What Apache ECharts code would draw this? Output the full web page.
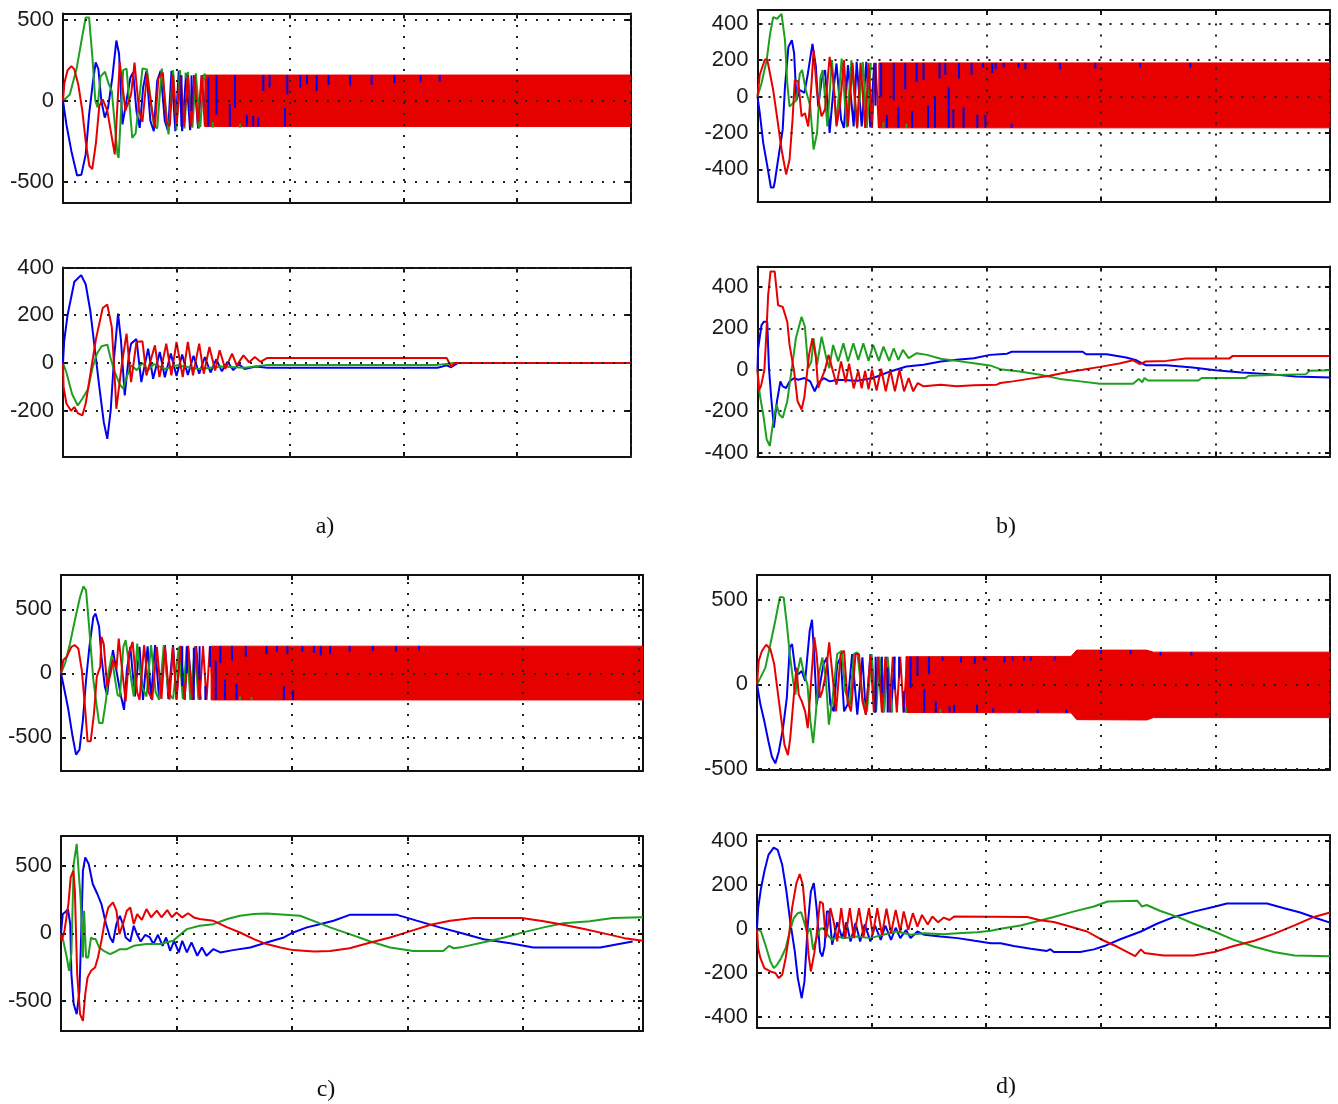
<!DOCTYPE html>
<html><head><meta charset="utf-8">
<script src="https://cdn.jsdelivr.net/npm/echarts@6/dist/echarts.min.js"></script>
<style>html,body{margin:0;padding:0;background:#fff;}#c{width:1338px;height:1104px;}</style>
</head><body><div id="c"></div>
<script>
// ---------- captions ----------
const captions = ['a)', 'b)', 'c)', 'd)'];

// ---------- shared x grid ----------
const xGridValues = [1, 2, 3, 4, 5];

// ---------- panel a, top ----------
const aTopYRange = [-630, 540];
const aTopYTicks = [-500, 0, 500];
const aTopBlue = [[0,0],[0.03,-145],[0.074,-310],[0.124,-460],[0.162,-455],[0.2,-330],[0.23,-83],[0.265,124],[0.288,238],[0.312,197],[0.338,0],[0.368,-103],[0.397,-41],[0.435,145],[0.47,373],[0.494,290],[0.524,-145],[0.559,0],[0.594,145],[0.618,176],[0.647,-62],[0.676,-166],[0.706,83],[0.735,186],[0.77,-124],[0.8,-186],[0.83,124],[0.86,186],[0.897,-124],[0.926,-186],[0.956,186],[0.99,-186],[1.02,186],[1.05,-186],[1.085,170],[1.12,-180],[1.155,160],[1.19,-170],[1.225,160],[1.26,-160]];
const aTopGreen = [[0,0],[0.06,40],[0.12,200],[0.17,400],[0.2,515],[0.23,515],[0.26,260],[0.285,0],[0.305,-40],[0.33,150],[0.37,180],[0.4,110],[0.43,60],[0.48,-330],[0.49,-352],[0.53,190],[0.56,200],[0.61,-228],[0.64,-200],[0.7,200],[0.74,195],[0.8,-150],[0.83,-170],[0.87,200],[0.93,-207],[0.97,190],[1.0,-160],[1.03,190],[1.07,-170],[1.1,180],[1.14,-165],[1.17,170],[1.21,-160],[1.24,165]];
const aTopRed = [[0,0],[0.012,110],[0.04,190],[0.074,215],[0.1,195],[0.135,100],[0.17,-60],[0.2,-250],[0.232,-400],[0.258,-420],[0.29,-260],[0.32,-30],[0.35,10],[0.39,-60],[0.456,-330],[0.5,240],[0.55,-60],[0.6,40],[0.63,237],[0.67,-60],[0.7,-130],[0.74,165],[0.78,-40],[0.81,-165],[0.84,140],[0.88,175],[0.91,-130],[0.94,-155],[0.97,160],[1.0,-158],[1.035,160],[1.065,-158],[1.1,160],[1.13,-158],[1.16,160],[1.19,-158],[1.22,160],[1.25,-158],[1.275,160],[1.3,-158]];
const aTopBandX = [1.25, 5];
const aTopBandUp = [160, 160];
const aTopBandLo = [-158, -158];
const aTopBlueSpikes = [[1.044,158,-158],[1.132,158,-62],[1.28,145,-158],[1.353,158,-83],[1.47,-20,-158],[1.515,158,-41],[1.62,-83,-158],[1.676,-93,-158],[1.72,-103,-158],[1.765,158,62],[1.82,158,83],[1.956,-41,-158],[1.976,158,41],[2.09,158,83],[2.15,158,103],[2.235,158,62],[2.34,158,100],[2.53,158,95],[2.72,158,100],[2.92,158,110],[3.15,158,115],[3.32,158,120]];
const aTopGreenSpikes = [[1.0,-180,-140],[1.2,-170,-130],[1.32,-165,-130],[1.56,-165,-140],[1.08,175,140],[1.25,170,140]];

// ---------- panel a, bottom ----------
const aBotYRange = [-394, 400];
const aBotYTicks = [-200, 0, 200, 400];
const aBotBlue = [[0,0],[0.01,90],[0.04,200],[0.1,340],[0.16,368],[0.2,330],[0.24,220],[0.28,60],[0.32,-100],[0.36,-250],[0.39,-318],[0.42,-200],[0.45,20],[0.485,207],[0.51,100],[0.544,-136],[0.58,30],[0.6,81],[0.647,100],[0.69,-80],[0.75,60],[0.794,-66],[0.853,46],[0.897,-60],[0.95,40],[1.0,-55],[1.05,35],[1.1,-50],[1.15,30],[1.2,-45],[1.25,25],[1.3,-40],[1.35,15],[1.4,-35],[1.45,5],[1.5,-30],[1.55,-5],[1.6,-25],[1.7,-15],[1.8,-20],[3.3,-20],[3.38,-10],[3.42,-18],[3.48,0],[5,0]];
const aBotGreen = [[0,0],[0.03,-40],[0.08,-130],[0.13,-178],[0.17,-150],[0.22,-110],[0.26,-20],[0.3,40],[0.34,70],[0.39,77],[0.42,20],[0.456,-38],[0.5,-90],[0.53,-108],[0.56,-60],[0.6,-10],[0.65,-30],[0.7,0],[0.75,-30],[0.8,-5],[0.9,-25],[1.0,-10],[1.2,-25],[1.4,-15],[1.6,-20],[1.8,-8],[3.3,-8],[3.45,0],[5,0]];
const aBotRed = [[0,0],[0.005,-100],[0.03,-170],[0.07,-200],[0.1,-185],[0.13,-210],[0.17,-220],[0.2,-170],[0.24,-50],[0.29,100],[0.35,230],[0.39,245],[0.43,150],[0.46,-100],[0.47,-192],[0.52,0],[0.56,123],[0.6,-80],[0.647,88],[0.7,91],[0.735,-52],[0.81,74],[0.85,-59],[0.91,81],[0.955,-52],[1.0,88],[1.055,-59],[1.1,88],[1.145,-52],[1.2,81],[1.24,-45],[1.29,67],[1.34,-32],[1.38,53],[1.43,-25],[1.49,39],[1.53,-10],[1.59,32],[1.64,3],[1.69,25],[1.74,5],[1.8,21],[3.38,21],[3.42,-15],[3.45,0],[5,0]];

// ---------- panel b, top ----------
const bTopYRange = [-577, 476];
const bTopYTicks = [-400, -200, 0, 200, 400];
const bTopBlue = [[0,0],[0.02,-91],[0.05,-255],[0.085,-380],[0.117,-500],[0.14,-500],[0.15,-473],[0.18,-346],[0.22,-182],[0.24,55],[0.27,273],[0.3,310],[0.32,237],[0.34,-18],[0.37,36],[0.41,20],[0.44,127],[0.48,290],[0.51,164],[0.53,-55],[0.56,91],[0.59,146],[0.63,-200],[0.66,18],[0.69,182],[0.73,-127],[0.755,-173],[0.79,173],[0.84,-164],[0.866,191],[0.91,-164],[0.95,191],[0.985,-170],[1.02,185]];
const bTopGreen = [[0,0],[0.035,73],[0.08,200],[0.11,345],[0.137,437],[0.17,428],[0.21,455],[0.24,310],[0.26,73],[0.28,-55],[0.31,-36],[0.34,-20],[0.37,127],[0.39,146],[0.42,40],[0.46,-50],[0.49,-291],[0.52,-200],[0.55,109],[0.57,146],[0.61,-164],[0.65,200],[0.69,-150],[0.735,209],[0.78,-170],[0.82,200],[0.87,-175],[0.92,190],[0.955,-172],[0.99,185]];
const bTopRed = [[0,0],[0.02,120],[0.064,204],[0.085,204],[0.137,36],[0.17,-109],[0.21,-291],[0.25,-428],[0.28,-346],[0.306,-127],[0.326,91],[0.356,82],[0.385,-109],[0.414,-91],[0.443,-164],[0.47,55],[0.49,255],[0.52,20],[0.56,-109],[0.59,-70],[0.63,218],[0.66,100],[0.69,-164],[0.72,-50],[0.755,200],[0.79,-164],[0.83,185],[0.87,-170],[0.9,185],[0.94,-172],[0.97,185],[1.0,-172],[1.03,185],[1.06,-172],[1.085,185]];
const bTopBandX = [1.06, 5];
const bTopBandUp = [185, 185];
const bTopBandLo = [-172, -172];
const bTopBlueSpikes = [[1.03,185,-50],[1.08,185,0],[1.13,-100,-172],[1.19,185,-20],[1.23,-60,-172],[1.29,185,40],[1.35,-80,-172],[1.39,185,80],[1.45,185,90],[1.49,-50,-172],[1.55,0,-172],[1.59,185,100],[1.64,185,120],[1.67,50,-172],[1.71,-70,-172],[1.76,185,100],[1.8,-60,-172],[1.87,185,120],[1.92,-100,-172],[1.97,185,160],[1.99,-100,-172],[2.05,185,130],[2.08,185,150],[2.15,185,160],[2.22,-150,-172],[2.28,185,160],[2.34,185,150],[2.64,185,150],[2.95,185,155],[3.34,185,160],[3.78,185,160]];
const bTopGreenSpikes = [[1.1,-172,-140],[1.3,-172,-150]];

// ---------- panel b, bottom ----------
const bBotYRange = [-419, 499];
const bBotYTicks = [-400, -200, 0, 200, 400];
const bBotBlue = [[0,0],[0.005,100],[0.035,216],[0.055,232],[0.085,232],[0.1,8],[0.12,-136],[0.143,-280],[0.17,-152],[0.2,-56],[0.22,-80],[0.25,-88],[0.28,-56],[0.32,-40],[0.356,-48],[0.41,-40],[0.46,-56],[0.5,-104],[0.53,-64],[0.58,-40],[0.63,-56],[0.7,-48],[0.87,-53],[1.01,-40],[1.16,-8],[1.3,16],[1.45,24],[1.6,40],[1.74,48],[1.89,56],[2.03,72],[2.18,78],[2.22,87],[2.84,87],[2.87,75],[3.05,75],[3.22,59],[3.31,46],[3.39,22],[3.57,22],[3.8,11],[4.0,-2],[4.23,-13],[4.47,-21],[4.7,-32],[5,-37]];
const bBotGreen = [[0,0],[0.02,-120],[0.05,-216],[0.08,-336],[0.108,-368],[0.137,-248],[0.166,-168],[0.19,-216],[0.22,-232],[0.26,-152],[0.3,8],[0.335,152],[0.385,256],[0.414,208],[0.443,8],[0.47,40],[0.49,152],[0.52,24],[0.56,160],[0.6,60],[0.627,8],[0.66,120],[0.705,40],[0.75,128],[0.79,40],[0.837,128],[0.88,48],[0.924,128],[0.97,43],[1.01,120],[1.06,43],[1.1,112],[1.15,43],[1.19,104],[1.23,48],[1.27,96],[1.32,56],[1.39,80],[1.48,72],[1.6,53],[1.74,43],[1.89,32],[2.03,21],[2.12,3],[2.29,-8],[2.47,-24],[2.64,-44],[2.82,-56],[2.99,-68],[3.28,-68],[3.33,-44],[3.36,-60],[3.38,-40],[3.41,-52],[3.85,-52],[3.88,-40],[4.26,-40],[4.29,-29],[4.79,-21],[4.82,-5],[5,-2]];
const bBotRed = [[0,0],[0.01,-100],[0.03,-80],[0.06,0],[0.075,150],[0.093,360],[0.114,475],[0.15,475],[0.18,312],[0.22,304],[0.26,232],[0.28,120],[0.32,-8],[0.35,-152],[0.385,-192],[0.41,-130],[0.45,72],[0.48,152],[0.51,60],[0.53,-88],[0.56,-40],[0.59,0],[0.62,72],[0.66,-10],[0.69,-72],[0.73,40],[0.77,-60],[0.8,30],[0.84,-90],[0.88,-5],[0.91,-90],[0.94,-5],[0.97,-95],[1.0,0],[1.04,-100],[1.08,5],[1.12,-104],[1.16,0],[1.2,-104],[1.24,0],[1.28,-104],[1.32,-40],[1.36,-104],[1.4,-64],[1.45,-80],[1.6,-72],[1.74,-80],[1.89,-75],[2.09,-72],[2.12,-64],[2.23,-56],[2.37,-44],[2.55,-29],[2.69,-13],[2.84,0],[2.99,14],[3.16,30],[3.28,46],[3.34,27],[3.39,40],[3.57,43],[3.74,54],[4.12,54],[4.15,67],[5,67]];

// ---------- panel c, top ----------
const cTopYRange = [-763, 768];
const cTopYTicks = [-500, 0, 500];
const cTopBlue = [[0,0],[0.03,-130],[0.064,-285],[0.1,-492],[0.13,-635],[0.16,-596],[0.19,-363],[0.217,-52],[0.246,207],[0.28,440],[0.3,466],[0.33,363],[0.35,130],[0.38,-104],[0.4,-168],[0.42,0],[0.45,181],[0.48,20],[0.52,-181],[0.546,-285],[0.57,20],[0.6,207],[0.64,-181],[0.68,207],[0.71,-207],[0.75,210],[0.78,-200],[0.815,220],[0.85,-200],[0.9,220],[0.93,-200],[0.97,220],[1.0,-200],[1.035,215],[1.07,-205],[1.1,215],[1.14,-205],[1.17,212],[1.21,-205]];
const cTopGreen = [[0,0],[0.035,78],[0.078,233],[0.12,414],[0.165,596],[0.194,679],[0.217,648],[0.246,337],[0.28,-52],[0.31,-259],[0.33,-389],[0.36,-389],[0.39,-207],[0.41,0],[0.44,142],[0.46,0],[0.49,-168],[0.51,-181],[0.54,207],[0.56,259],[0.6,0],[0.63,-180],[0.66,233],[0.7,-100],[0.74,-181],[0.78,220],[0.82,-150],[0.85,-207],[0.89,220],[0.93,-150],[0.97,-200],[1.02,207],[1.055,-200],[1.09,210],[1.12,-205],[1.16,210],[1.19,-205]];
const cTopRed = [[0,0],[0.02,104],[0.05,130],[0.09,207],[0.12,220],[0.15,194],[0.18,26],[0.21,-285],[0.23,-531],[0.257,-531],[0.286,-311],[0.31,-26],[0.34,52],[0.35,285],[0.37,230],[0.4,-104],[0.43,0],[0.45,104],[0.48,30],[0.5,272],[0.53,20],[0.56,-220],[0.59,160],[0.62,246],[0.66,-150],[0.68,-207],[0.72,220],[0.76,-150],[0.79,-207],[0.83,207],[0.87,-200],[0.9,207],[0.94,-205],[0.97,207],[1.0,-208],[1.035,212],[1.07,-208],[1.1,212],[1.135,-208],[1.165,212],[1.2,-208],[1.23,212],[1.26,-208],[1.29,212],[1.32,-208]];
const cTopBandX = [1.3, 5.04];
const cTopBandUp = [212, 212];
const cTopBandLo = [-208, -208];
const cTopBlueSpikes = [[1.05,212,-100],[1.09,212,0],[1.15,200,-208],[1.2,212,-50],[1.25,-100,-208],[1.29,212,50],[1.34,100,-208],[1.38,212,80],[1.42,-50,-208],[1.48,212,100],[1.52,-80,-208],[1.6,212,130],[1.78,212,150],[1.87,212,170],[1.93,-100,-208],[1.96,212,150],[2.01,-130,-208],[2.09,212,170],[2.19,212,160],[2.25,212,140],[2.33,212,150],[2.5,212,170],[2.7,212,175],[2.9,212,170],[3.1,212,180]];
const cTopGreenSpikes = [[1.12,-208,-170],[1.55,-208,-180],[1.65,-208,-185]];

// ---------- panel c, bottom ----------
const cBotYRange = [-725, 724];
const cBotYTicks = [-500, 0, 500];
const cBotBlue = [[0,0],[0.015,144],[0.035,156],[0.06,180],[0.08,70],[0.09,-300],[0.11,-525],[0.136,-600],[0.16,-426],[0.175,0],[0.19,466],[0.21,565],[0.24,516],[0.275,367],[0.315,293],[0.35,218],[0.39,70],[0.425,-30],[0.45,-67],[0.48,70],[0.51,131],[0.535,70],[0.56,-30],[0.6,-60],[0.63,57],[0.66,-10],[0.69,-60],[0.73,-10],[0.77,-30],[0.8,-79],[0.84,-10],[0.88,-92],[0.91,-30],[0.945,-129],[0.98,-55],[1.02,-141],[1.05,-55],[1.09,-141],[1.13,-67],[1.18,-166],[1.22,-104],[1.26,-166],[1.32,-116],[1.38,-141],[1.49,-124],[1.64,-104],[1.78,-67],[1.93,-30],[2.01,7],[2.13,45],[2.25,70],[2.36,94],[2.5,138],[2.91,138],[3.08,95],[3.28,45],[3.48,0],[3.66,-43],[3.89,-73],[4.09,-105],[4.67,-105],[4.82,-80],[4.95,-60]];
const cBotGreen = [[0,0],[0.02,-55],[0.05,-179],[0.07,-278],[0.09,-150],[0.11,516],[0.136,665],[0.153,665],[0.17,250],[0.19,-179],[0.2,169],[0.217,-179],[0.235,-179],[0.26,-30],[0.28,-42],[0.3,-42],[0.33,-104],[0.37,-129],[0.425,-154],[0.46,-140],[0.51,-117],[0.57,-117],[0.63,-92],[0.74,-79],[0.86,-79],[0.97,-55],[1.09,32],[1.2,57],[1.32,69],[1.44,107],[1.55,131],[1.67,144],[1.78,149],[2.07,131],[2.22,82],[2.33,45],[2.5,-5],[2.68,-60],[2.85,-105],[3.05,-130],[3.31,-130],[3.36,-93],[3.4,-110],[3.48,-100],[3.69,-60],[3.84,-30],[4.0,8],[4.18,45],[4.35,75],[4.58,90],[4.78,115],[5.04,120]];
const cBotRed = [[0,0],[0.006,-55],[0.03,20],[0.064,218],[0.084,417],[0.107,466],[0.12,317],[0.14,-300],[0.165,-600],[0.19,-650],[0.21,-451],[0.23,-327],[0.26,-278],[0.295,-253],[0.32,-179],[0.35,-55],[0.38,94],[0.41,193],[0.45,231],[0.48,169],[0.506,-5],[0.54,80],[0.57,169],[0.6,193],[0.63,70],[0.66,144],[0.7,100],[0.74,181],[0.78,120],[0.83,169],[0.87,120],[0.92,174],[0.96,120],[1.0,156],[1.05,119],[1.1,150],[1.15,119],[1.2,107],[1.32,94],[1.44,45],[1.55,7],[1.67,-42],[1.78,-79],[1.9,-104],[2.01,-124],[2.19,-134],[2.33,-130],[2.5,-110],[2.68,-68],[2.85,-30],[3.02,15],[3.2,65],[3.37,95],[3.57,115],[3.99,115],[4.18,90],[4.35,65],[4.53,33],[4.73,-5],[4.88,-35],[5.04,-55]];

// ---------- panel d, top ----------
const dTopYRange = [-505, 645];
const dTopYTicks = [-500, 0, 500];
const dTopBlue = [[0,0],[0.03,-119],[0.064,-218],[0.1,-337],[0.13,-427],[0.16,-466],[0.19,-397],[0.227,-258],[0.26,-79],[0.286,218],[0.306,238],[0.335,79],[0.36,60],[0.39,79],[0.42,20],[0.46,317],[0.48,381],[0.5,160],[0.52,-119],[0.55,0],[0.58,119],[0.61,159],[0.64,-119],[0.67,-159],[0.7,119],[0.73,159],[0.76,-159],[0.79,-119],[0.83,179],[0.875,-179],[0.92,159],[0.95,-179],[0.99,179],[1.03,-166],[1.06,163],[1.1,-166],[1.13,163],[1.17,-166],[1.2,163]];
const dTopGreen = [[0,0],[0.03,40],[0.073,99],[0.117,238],[0.16,377],[0.2,516],[0.233,512],[0.26,357],[0.286,179],[0.315,20],[0.335,-60],[0.356,79],[0.38,159],[0.41,60],[0.44,0],[0.466,-218],[0.49,-347],[0.51,-200],[0.54,60],[0.57,159],[0.6,40],[0.627,-238],[0.66,-80],[0.7,179],[0.74,198],[0.77,-40],[0.81,-119],[0.845,179],[0.875,189],[0.92,-80],[0.96,-159],[1.0,179],[1.04,-160],[1.07,163],[1.11,-166],[1.14,163],[1.18,-166]];
const dTopRed = [[0,0],[0.015,139],[0.044,198],[0.08,234],[0.117,208],[0.15,119],[0.18,-40],[0.21,-198],[0.24,-357],[0.27,-417],[0.29,-317],[0.32,-79],[0.344,99],[0.364,-60],[0.39,-99],[0.42,-159],[0.443,-258],[0.47,0],[0.5,278],[0.52,179],[0.55,-79],[0.57,-40],[0.6,60],[0.63,248],[0.655,79],[0.69,-159],[0.73,179],[0.76,198],[0.79,-99],[0.82,-159],[0.86,179],[0.89,179],[0.92,-100],[0.95,-179],[0.99,169],[1.02,-166],[1.055,163],[1.09,-166],[1.12,163],[1.155,-166],[1.185,163],[1.22,-166],[1.25,163],[1.28,-166],[1.31,163],[1.34,-166]];
const dTopBandX = [1.3, 2.74, 2.79, 3.4, 3.46, 5];
const dTopBandUp = [163, 165, 202, 202, 190, 190];
const dTopBandLo = [-166, -168, -208, -210, -196, -196];
const dTopBlueSpikes = [[1.035,163,-166],[1.09,163,-50],[1.14,100,-166],[1.2,163,-30],[1.24,163,40],[1.28,-40,-166],[1.34,163,-20],[1.4,163,50],[1.46,-30,-166],[1.5,163,60],[1.56,-100,-166],[1.62,163,140],[1.68,-130,-166],[1.72,-120,-166],[1.78,163,130],[1.9,163,120],[1.92,-120,-166],[1.98,163,140],[2.06,-140,-166],[2.16,163,130],[2.23,163,140],[2.29,-150,-168],[2.33,163,140],[2.39,163,140],[2.45,-150,-168],[2.6,163,140],[2.7,-150,-168],[3.0,202,180],[3.26,202,180],[3.52,190,170],[3.79,190,170]];
const dTopGreenSpikes = [[1.3,-166,-140],[1.6,-166,-145]];

// ---------- panel d, bottom ----------
const dBotYRange = [-449, 425];
const dBotYTicks = [-400, -200, 0, 200, 400];
const dBotBlue = [[0,0],[0.01,94],[0.035,184],[0.064,260],[0.1,335],[0.146,368],[0.18,358],[0.22,290],[0.257,169],[0.29,33],[0.33,-103],[0.356,-223],[0.39,-314],[0.414,-238],[0.443,18],[0.47,169],[0.496,207],[0.52,94],[0.55,-103],[0.57,-125],[0.59,-80],[0.61,79],[0.63,79],[0.656,-72],[0.7,30],[0.743,-42],[0.78,30],[0.816,-57],[0.86,26],[0.9,-57],[0.94,20],[0.99,-57],[1.03,15],[1.08,-50],[1.12,15],[1.17,-50],[1.21,5],[1.25,-42],[1.3,-5],[1.34,-42],[1.4,-12],[1.46,-27],[1.6,-35],[1.75,-42],[1.9,-54],[2.04,-65],[2.125,-65],[2.24,-78],[2.39,-90],[2.53,-100],[2.56,-92],[2.59,-105],[2.82,-105],[2.94,-93],[3.03,-78],[3.17,-47],[3.35,-12],[3.49,23],[3.64,54],[3.81,78],[3.99,100],[4.1,115],[4.45,115],[4.6,93],[4.74,74],[4.89,47],[5,28]];
const dBotGreen = [[0,0],[0.035,-12],[0.073,-72],[0.117,-148],[0.146,-178],[0.175,-163],[0.21,-133],[0.25,-88],[0.286,-12],[0.32,48],[0.356,71],[0.385,75],[0.41,33],[0.44,-20],[0.466,3],[0.49,-95],[0.52,-42],[0.55,0],[0.58,3],[0.62,-30],[0.656,-50],[0.7,-35],[0.76,-42],[0.875,-35],[0.99,-42],[1.1,-27],[1.22,-12],[1.34,-27],[1.46,-20],[1.63,-24],[1.75,-20],[1.92,-15],[2.04,-9],[2.125,0],[2.3,15],[2.42,31],[2.59,54],[2.76,78],[2.94,101],[3.06,124],[3.32,127],[3.36,101],[3.4,108],[3.52,81],[3.67,54],[3.81,23],[3.99,-12],[4.16,-50],[4.34,-81],[4.51,-105],[4.69,-121],[5,-124]];
const dBotRed = [[0,0],[0.01,-88],[0.03,-133],[0.064,-178],[0.117,-193],[0.16,-200],[0.19,-223],[0.22,-208],[0.25,-133],[0.28,-27],[0.306,94],[0.344,207],[0.373,248],[0.4,199],[0.43,20],[0.45,-118],[0.47,-193],[0.5,-110],[0.52,-27],[0.55,124],[0.575,115],[0.6,-42],[0.62,20],[0.64,94],[0.67,30],[0.7,-57],[0.735,94],[0.77,-42],[0.81,94],[0.845,-42],[0.89,94],[0.93,-35],[0.977,94],[1.01,-27],[1.05,94],[1.09,-27],[1.13,91],[1.17,-20],[1.21,86],[1.25,-12],[1.28,79],[1.32,-5],[1.36,71],[1.4,10],[1.44,63],[1.49,20],[1.53,56],[1.58,30],[1.63,51],[1.68,40],[1.72,56],[2.36,54],[2.47,39],[2.59,31],[2.7,15],[2.88,-12],[3.0,-47],[3.14,-80],[3.3,-124],[3.35,-93],[3.38,-109],[3.55,-121],[3.81,-121],[3.99,-105],[4.16,-78],[4.34,-54],[4.51,-23],[4.69,16],[4.86,54],[5,74]];

// ---------- styling / layout ----------
const RED = '#e60000', BLUE = '#0000ee', GREEN = '#1f9f1f', INK = '#111';
const panels = [
  {box:[63,13.5,567.5,189.5], xMax:5, yR:aTopYRange, yT:aTopYTicks, blue:aTopBlue, green:aTopGreen, red:aTopRed, band:[aTopBandX,aTopBandUp,aTopBandLo], bs:aTopBlueSpikes, gs:aTopGreenSpikes},
  {box:[63,267.5,567.5,189.5], xMax:5, yR:aBotYRange, yT:aBotYTicks, blue:aBotBlue, green:aBotGreen, red:aBotRed},
  {box:[757.5,10,572.5,191.5], xMax:5, yR:bTopYRange, yT:bTopYTicks, blue:bTopBlue, green:bTopGreen, red:bTopRed, band:[bTopBandX,bTopBandUp,bTopBandLo], bs:bTopBlueSpikes, gs:bTopGreenSpikes},
  {box:[757.5,266.5,572.5,190], xMax:5, yR:bBotYRange, yT:bBotYTicks, blue:bBotBlue, green:bBotGreen, red:bBotRed},
  {box:[61,575,582,196], xMax:5.04, yR:cTopYRange, yT:cTopYTicks, blue:cTopBlue, green:cTopGreen, red:cTopRed, band:[cTopBandX,cTopBandUp,cTopBandLo], bs:cTopBlueSpikes, gs:cTopGreenSpikes},
  {box:[61,836,582,195], xMax:5.04, yR:cBotYRange, yT:cBotYTicks, blue:cBotBlue, green:cBotGreen, red:cBotRed},
  {box:[757,575,573,195], xMax:5, yR:dTopYRange, yT:dTopYTicks, blue:dTopBlue, green:dTopGreen, red:dTopRed, band:[dTopBandX,dTopBandUp,dTopBandLo], bs:dTopBlueSpikes, gs:dTopGreenSpikes},
  {box:[757,835,573,193], xMax:5, yR:dBotYRange, yT:dBotYTicks, blue:dBotBlue, green:dBotGreen, red:dBotRed}
];
const captionPos = [[325,527],[1006,527],[326,1090],[1006,1087]];

const grid = [], xAxis = [], yAxis = [], series = [];
const lineAxis = {show:true, onZero:false, lineStyle:{color:INK, width:2}};
const tickStyle = {color:INK, width:2};
panels.forEach((p, i) => {
  grid.push({left:p.box[0], top:p.box[1], width:p.box[2], height:p.box[3], containLabel:false});
  ['bottom','top'].forEach(pos => xAxis.push({gridIndex:i, type:'value', min:0, max:p.xMax, interval:1, position:pos,
    axisLine:lineAxis, axisTick:{show:true, inside:true, length:5, lineStyle:tickStyle}, axisLabel:{show:false}, splitLine:{show:false}}));
  ['left','right'].forEach(pos => yAxis.push({gridIndex:i, type:'value', min:p.yR[0], max:p.yR[1], position:pos,
    axisLine:lineAxis, axisTick:{show:true, inside:true, length:5, lineStyle:tickStyle, customValues:p.yT},
    axisLabel:{show: pos==='left', customValues:p.yT, fontFamily:'Liberation Sans, Arial, sans-serif', fontSize:22, color:'#1a1a1a', margin:9},
    splitLine:{show:false}}));
  const xi = 2*i, yi = 2*i;
  series.push({type:'line', xAxisIndex:xi, yAxisIndex:yi, data:[[0,0]], symbol:'none', lineStyle:{opacity:0}, silent:true, animation:false, z:1,
    markLine:{silent:true, animation:false, symbol:['none','none'], label:{show:false},
      lineStyle:{color:'#222', width:2, type:[2,9]},
      emphasis:{disabled:true},
      data:[...p.yT.map(v => ({yAxis:v})), ...xGridValues.map(v => ({xAxis:v}))]}});
  [[p.blue,BLUE],[p.green,GREEN],[p.red,RED]].forEach(([d,c]) => series.push({
    type:'line', xAxisIndex:xi, yAxisIndex:yi, data:d, symbol:'none', showSymbol:false, animation:false, z:2,
    lineStyle:{color:c, width:2}, itemStyle:{color:c}, emphasis:{disabled:true}}));
  if (p.band) {
    const [bx, bu, bl] = p.band;
    series.push({type:'custom', xAxisIndex:xi, yAxisIndex:yi, animation:false, z:3,
      data: bx.map((x, k) => [x, bu[k], bl[k]]), encode:{x:0, y:[1,2]},
      renderItem: (params, api) => {
        if (params.dataIndex !== 0) return null;
        const pts = [];
        for (let k = 0; k < bx.length; k++) pts.push(api.coord([bx[k], bu[k]]));
        for (let k = bx.length - 1; k >= 0; k--) pts.push(api.coord([bx[k], bl[k]]));
        return {type:'polygon', shape:{points:pts}, style:{fill:RED, stroke:RED, lineWidth:1}};
      }});
    [[p.bs,BLUE],[p.gs,GREEN]].forEach(([d,c]) => series.push({type:'custom', xAxisIndex:xi, yAxisIndex:yi, animation:false, z:4,
      data:d, encode:{x:0, y:[1,2]},
      renderItem: (params, api) => {
        const a = api.coord([api.value(0), api.value(1)]);
        const b = api.coord([api.value(0), api.value(2)]);
        return {type:'line', shape:{x1:a[0], y1:a[1], x2:b[0], y2:b[1]}, style:{stroke:c, lineWidth:2}};
      }}));
  }
});

const chart = echarts.init(document.getElementById('c'), null, {renderer:'canvas'});
chart.setOption({
  animation:false, backgroundColor:'#fff',
  grid, xAxis, yAxis, series,
  graphic: captions.map((t, k) => ({type:'text', x:captionPos[k][0], y:captionPos[k][1],
    style:{text:t, font:'24px "Liberation Serif", "Times New Roman", serif', fill:'#111', textAlign:'center', textVerticalAlign:'middle'}}))
});
</script></body></html>
